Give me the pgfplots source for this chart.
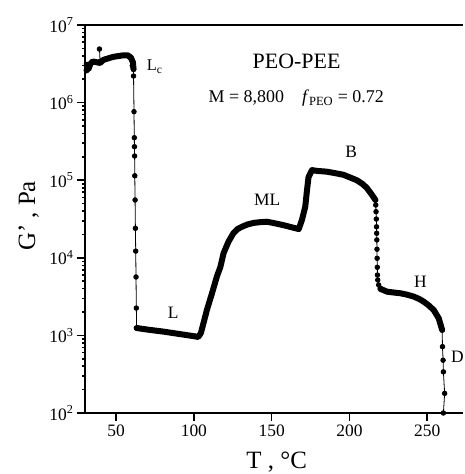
\documentclass[border=0pt]{standalone}
\usepackage{fontspec}
\setmainfont{Liberation Serif}
\usepackage{pgfplots}
\pgfplotsset{compat=1.18}

% dense stretches of the curve (markers merge into a thick band)
\pgfplotstableread{
x y
31.0 3.09e6
32.2 2.69e6
33.5 3.16e6
35.0 3.39e6
37.5 3.31e6
39.7 3.24e6
41.8 3.55e6
45.0 3.72e6
48.3 3.89e6
51.5 3.98e6
54.7 4.07e6
57.5 4.07e6
59.5 3.80e6
60.8 3.31e6
61.2 2.69e6
}\lcdata

\pgfplotstableread{
x y
63.2 1245
70 1189
80 1122
90 1047
100 977
102.8 955
104.5 1072
106.2 1445
108.4 2138
111.6 3467
114.8 5754
117 7586
119.1 11480
122.3 16220
125.5 20890
128 23440
130.9 25120
134.5 26900
138.4 28180
143 28840
147 29170
152 27860
157.7 26300
162.5 24830
167.4 23440
169.5 30900
171.6 45710
172.7 74130
173.7 109600
175.9 134900
179.1 131800
185.4 128800
191 123000
196.1 117500
204.7 100000
208.5 89100
211.2 79400
214.5 64600
216.7 55600
}\mlbdata

\pgfplotstableread{
x y
219.9 3980
224.2 3660
228.5 3570
232.8 3490
237 3350
241.4 3160
244.8 2950
247.8 2720
251 2430
254.2 2120
257.4 1660
259.6 1175
}\hdata

% sparse transitions (single dots)
\pgfplotstableread{
x y
61.2 2.69e6
61.2 2.20e6
61.5 7.64e5
61.7 3.53e5
61.8 2.70e5
61.9 2.05e5
62.0 1.14e5
62.2 5.56e4
62.4 2.40e4
62.6 1.22e4
62.8 5.66e3
63.0 2.25e3
63.2 1.24e3
}\tone

\pgfplotstableread{
x y
216.7 55600
216.9 47900
217.1 39300
217.3 31600
217.4 25100
217.5 20700
217.6 17000
217.7 12900
217.8 9860
217.9 7550
218.0 6000
218.2 5180
218.8 4470
219.9 4050
}\ttwo

\pgfplotstableread{
x y
259.6 1175
259.8 716
260.2 479
260.4 339
261.2 179
260.4 100
}\tthree

\begin{document}
\begin{tikzpicture}
\begin{axis}[
  at={(0,0)}, anchor=south west,
  scale only axis, width=378bp, height=388bp,
  xmin=30, xmax=273, ymin=100, ymax=1e7,
  ymode=log,
  axis x line=box, axis y line=left,
  y axis line style={-},
  axis line style={line width=1.8bp},
  tick style={line width=1.6bp, black},
  major tick length=8bp,
  tick align=outside,
  xtick pos=bottom, ytick pos=left,
  minor tick num=0,
  xtick={50,100,150,200,250},
  xticklabels={50,100,150,200,250},
  ytick={1e2,1e3,1e4,1e5,1e6,1e7},
  yticklabels={10\textsuperscript{2},10\textsuperscript{3},10\textsuperscript{4},10\textsuperscript{5},10\textsuperscript{6},10\textsuperscript{7}},
  ticklabel style={font=\fontsize{17.5}{19}\selectfont},
  xlabel={T , °C},
  ylabel={G' , Pa},
  label style={font=\fontsize{25}{27}\selectfont},
  xlabel style={at={(axis description cs:0.507,-0.144)}, anchor=base},
  ylabel style={at={(axis description cs:-0.132,0.508)}, anchor=base},
  clip=false,
]
\addplot[black, line width=6bp, line join=round, line cap=round] table {\lcdata};
\addplot[black, line width=6bp, line join=round, line cap=round] table {\mlbdata};
\addplot[black, line width=6bp, line join=round, line cap=round] table {\hdata};
\addplot[black, line width=0.8bp, mark=*, mark size=2.3bp] table {\tone};
\addplot[black, line width=0.8bp, mark=*, mark size=2.3bp] table {\ttwo};
\addplot[black, line width=0.8bp, mark=*, mark size=2.3bp] table {\tthree};
\addplot[black, line width=0.8bp, mark=*, mark size=2.3bp] coordinates {(39.3,4.9e6) (39.7,3.4e6)};
\addplot[black, only marks, mark=*, mark size=2.8bp] coordinates {(31.0,2.6e6) (32.5,2.9e6) (58.5,3.9e6) (60.6,3.0e6)};

\node[font=\fontsize{22}{24}\selectfont, anchor=base] at (axis cs:166,2.77e6) {PEO-PEE};
\node[font=\fontsize{18}{20}\selectfont, anchor=base] at (axis cs:165.8,1.0e6) {M = 8,800\quad \textit{f}\textsubscript{PEO} = 0.72};
\node[font=\fontsize{16.5}{18}\selectfont, anchor=base west, inner sep=0pt] at (axis cs:69.7,2.58e6) {L\textsubscript{c}};
\node[font=\fontsize{17.5}{19}\selectfont] at (axis cs:86.7,1950) {L};
\node[font=\fontsize{17.5}{19}\selectfont] at (axis cs:147.2,5.56e4) {ML};
\node[font=\fontsize{17.5}{19}\selectfont] at (axis cs:201.2,2.29e5) {B};
\node[font=\fontsize{17.5}{19}\selectfont] at (axis cs:245.6,4.9e3) {H};
\node[font=\fontsize{17.5}{19}\selectfont] at (axis cs:269.4,525) {D};
\end{axis}
\pgfresetboundingbox
\path ([xshift=-85bp,yshift=-61bp]current axis.south west) rectangle ([xshift=2bp,yshift=25bp]current axis.north east);
\end{tikzpicture}
\end{document}
